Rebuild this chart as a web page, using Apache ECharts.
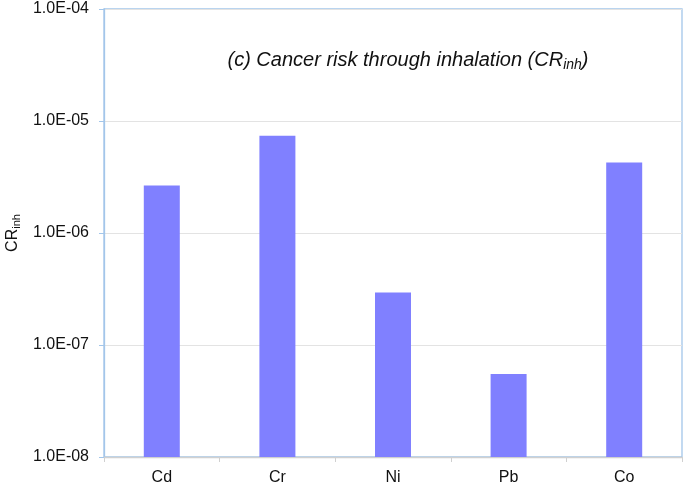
<!DOCTYPE html>
<html>
<head>
<meta charset="utf-8">
<script src="https://cdn.jsdelivr.net/npm/echarts@6/dist/echarts.min.js"></script>
<style>html,body{margin:0;padding:0;background:#fff;}#c{width:685px;height:485px;}</style>
</head>
<body>
<div id="c"></div>
<script>
const categories = ['Cd', 'Cr', 'Ni', 'Pb', 'Co'];
const crInh = [2.65e-6, 7.39e-6, 2.94e-7, 5.5e-8, 4.27e-6];
const yTicks = ['1.0E-08', '1.0E-07', '1.0E-06', '1.0E-05', '1.0E-04'];
const yMin = 1e-8, yMax = 1e-4;

const chart = echarts.init(document.getElementById('c'));
function fmt(v) {
  const e = Math.round(Math.log10(v));
  const s = e < 0 ? '-' : '+';
  const a = Math.abs(e);
  return '1.0E' + s + (a < 10 ? '0' : '') + a;
}
chart.setOption({
  animation: false,
  backgroundColor: '#fff',
  title: {
    text: '{t|(c) Cancer risk through inhalation (CR}{s|inh}{t|)}',
    left: 403, top: 43, textAlign: 'center',
    textStyle: {
      fontWeight: 'normal',
      rich: {
        t: {fontFamily: 'Liberation Sans, Arial', fontStyle: 'italic', fontWeight: 'normal', fontSize: 20, color: '#111'},
        s: {fontFamily: 'Liberation Sans, Arial', fontStyle: 'italic', fontWeight: 'normal', fontSize: 14, color: '#111', padding: [10, 0, 0, 0]}
      }
    }
  },
  grid: {left: 104, right: 3, top: 9, bottom: 28, outerBoundsMode: 'none', containLabel: false,
         show: true, borderColor: '#a3c6ea', borderWidth: 1.3},
  xAxis: {
    type: 'category', data: categories,
    axisLine: {lineStyle: {color: '#d0d0d0', width: 1.3}},
    axisTick: {show: true, alignWithLabel: false, length: 5, lineStyle: {color: '#d0d0d0'}},
    axisLabel: {color: '#111', fontSize: 16, fontFamily: 'Liberation Sans, Arial', margin: 13}
  },
  yAxis: {
    type: 'log', logBase: 10, min: yMin, max: yMax,
    name: '{t|CR}{s|inh}', nameLocation: 'middle', nameRotate: 90, nameGap: 82,
    nameTextStyle: {
      rich: {
        t: {fontFamily: 'Liberation Sans, Arial', fontSize: 16, color: '#111'},
        s: {fontFamily: 'Liberation Sans, Arial', fontSize: 11, color: '#111', padding: [7, 0, 0, 0]}
      }
    },
    axisLine: {show: true, lineStyle: {color: '#a3c6ea', width: 1.3}},
    axisTick: {show: true, length: 5, lineStyle: {color: '#a3c6ea'}},
    minorTick: {show: false},
    splitLine: {show: true, lineStyle: {color: '#e3e3e3', width: 1}},
    axisLabel: {
      color: '#111', fontSize: 16, fontFamily: 'Liberation Sans, Arial', margin: 15,
      formatter: function (v) { const i = Math.round(Math.log10(v)) + 8; return yTicks[i] || fmt(v); }
    }
  },
  series: [{
    type: 'custom',
    data: crInh.map((v, i) => [i, v]),
    encode: {x: 0, y: 1},
    renderItem: function (params, api) {
      const i = api.value(0), v = api.value(1);
      const top = api.coord([i, v]);
      const bot = api.coord([i, yMin]);
      const w = 36;
      return {
        type: 'rect',
        shape: {x: top[0] - w / 2, y: top[1], width: w, height: bot[1] - top[1]},
        style: {fill: '#8080ff'}
      };
    }
  }]
});
</script>
</body>
</html>
